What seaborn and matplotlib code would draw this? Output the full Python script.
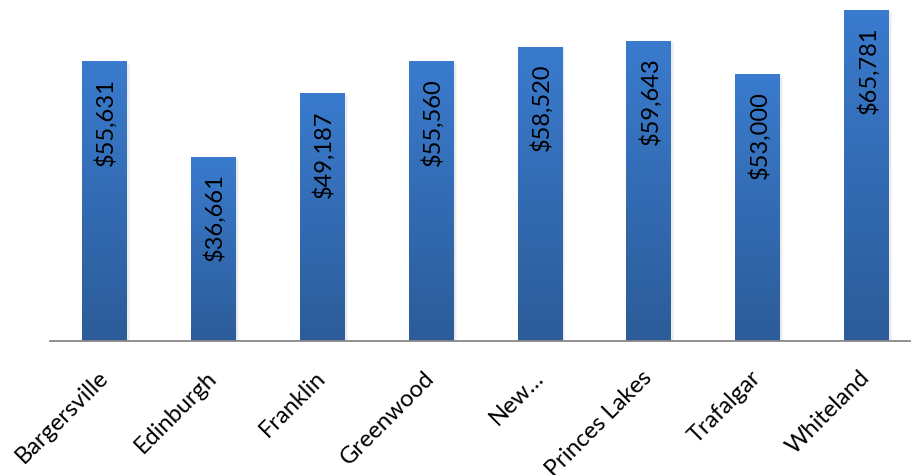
import numpy as np
import pandas as pd
import matplotlib
matplotlib.use("Agg")
import matplotlib.pyplot as plt
import seaborn as sns
from matplotlib.colors import LinearSegmentedColormap

cities = ["Bargersville", "Edinburgh", "Franklin", "Greenwood", "New\u2026",
          "Princes Lakes", "Trafalgar", "Whiteland"]
incomes = [55631, 36661, 49187, 55560, 58520, 59643, 53000, 65781]
labels = ["$55,631", "$36,661", "$49,187", "$55,560", "$58,520",
          "$59,643", "$53,000", "$65,781"]

sns.set_theme(style="white")
plt.rcParams["font.family"] = ["Lato", "DejaVu Sans"]

df = pd.DataFrame({"city": cities, "income": incomes})

fig = plt.figure(figsize=(9.11, 4.75), dpi=100)
ax = fig.add_axes([50 / 911, 1 - 341 / 475, 871 / 911, 341 / 475])

sns.barplot(data=df, x="city", y="income", color="#3468B4", width=0.41,
            ax=ax, saturation=1)

ax.set_xlim(-0.5, 7.5)
ax.set_ylim(0, 67766)

cmap = LinearSegmentedColormap.from_list("g", ["#2C5C99", "#3A7BCE"])
grad = np.linspace(0, 1, 256).reshape(-1, 1)
for p in ax.patches:
    x0, w, h = p.get_x(), p.get_width(), p.get_height()
    ax.bar(x0 + w / 2 + 0.02, h, width=w, bottom=-300, color="#000000",
           alpha=0.08, zorder=p.get_zorder() - 0.5)
    im = ax.imshow(grad, extent=[x0, x0 + w, 0, h], origin="lower",
                   aspect="auto", cmap=cmap, zorder=p.get_zorder() + 0.1)
    im.set_clip_path(p)
    p.set_edgecolor("none")

ax.set_xlim(-0.5, 7.5)
ax.set_ylim(0, 67766)

for i, (v, t) in enumerate(zip(incomes, labels)):
    ax.annotate(t, xy=(i, v), xytext=(1, -12), textcoords="offset points",
                rotation=90, ha="center", va="top", fontsize=17,
                color="black", zorder=5)

for s in ["top", "right", "left"]:
    ax.spines[s].set_visible(False)
ax.spines["bottom"].set_color("#888888")
ax.spines["bottom"].set_linewidth(1.3)
ax.set_yticks([])
ax.set_xlabel("")
ax.set_ylabel("")
ax.tick_params(axis="x", length=0, pad=24)
plt.setp(ax.get_xticklabels(), rotation=45, ha="right", va="center",
         rotation_mode="anchor", fontsize=17, color="black")

fig.savefig("out.png", dpi=100)
